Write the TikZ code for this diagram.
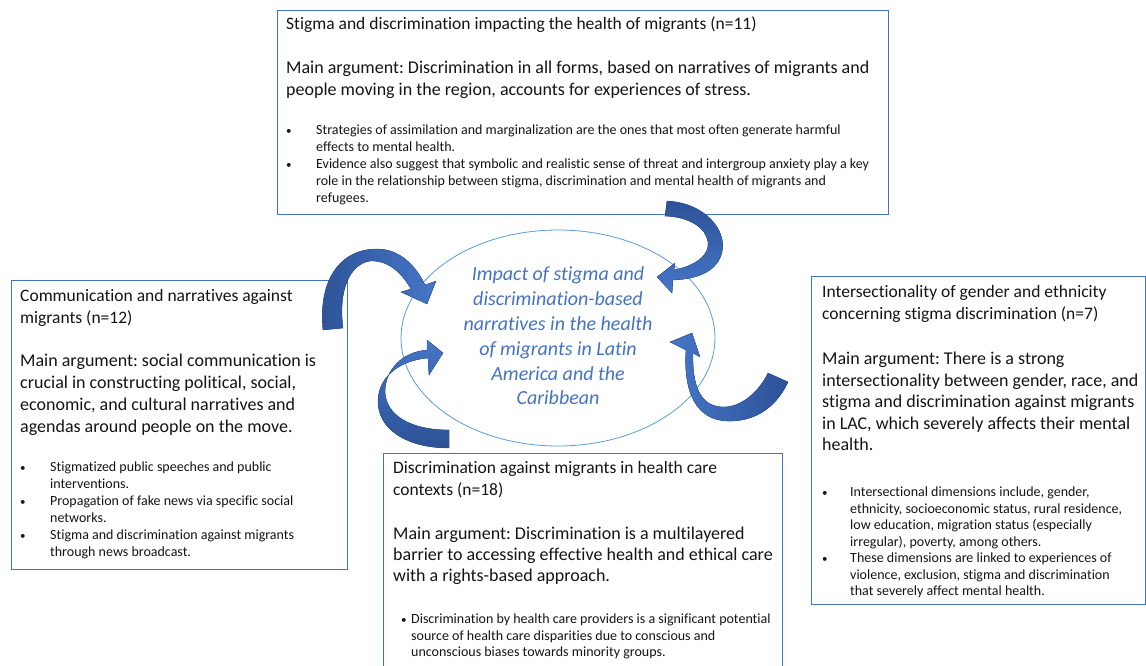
\documentclass[tikz,border=0pt]{standalone}
\usepackage{fontspec}
\setmainfont{Carlito}[Ligatures=NoCommon]
\usetikzlibrary{shapes.geometric}

\definecolor{boxblue}{RGB}{68,114,196}
\definecolor{ringblue}{RGB}{91,155,213}
\definecolor{arrowdark}{RGB}{45,82,150}
\definecolor{arrowlight}{RGB}{70,118,200}
\definecolor{bodytext}{RGB}{20,20,20}

\newcommand{\boxlines}[1]{\begin{tabular}[t]{@{}l@{}}#1\end{tabular}}
\newcommand{\boxbullets}[2]{\begin{tabular}[t]{@{}p{#1}@{}l@{}}#2\end{tabular}}
\newcommand{\dotmark}{{\fontsize{11}{11}\selectfont\textbullet}}

\tikzset{
  box/.style={draw=boxblue, line width=0.7pt, inner sep=0pt},
  hub/.style={draw=ringblue, line width=0.8pt, ellipse, inner sep=0pt,
    minimum width=314pt, minimum height=216pt, text=boxblue,
    font=\fontsize{20}{24.8}\selectfont\itshape},
  ttl/.style={anchor=base west, inner sep=0pt, text=bodytext, font=\fontsize{17.5}{22}\selectfont},
  arg/.style={anchor=base west, inner sep=0pt, text=bodytext, font=\fontsize{18}{22}\selectfont},
  bul/.style={anchor=base west, inner sep=0pt, text=bodytext, font=\fontsize{14}{17}\selectfont},
  curvearrow/.style={draw=arrowdark, line width=0.3pt},
}

\begin{document}
\frenchspacing
\begin{tikzpicture}[x=1pt,y=-1pt]
\useasboundingbox (0,0) rectangle (1146,666);

% the four theme boxes
\node[box, minimum width=611pt, minimum height=204pt] (stigma) at (582.5,112) {};
\node[box, minimum width=336pt, minimum height=289pt] (media) at (179,424.5) {};
\node[box, minimum width=334pt, minimum height=328pt] (gender) at (978,440) {};
\node[box, minimum width=399pt, minimum height=240pt] (care) at (582.5,573) {};

% top box
\node[ttl] (stigmattl) at (286,29.5) {\boxlines{Stigma and discrimination impacting the health of migrants (n=11)}};
\node[arg] (stigmaarg) at (286,73.5) {\boxlines{Main argument: Discrimination in all forms, based on narratives of migrants and\\
  people moving in the region, accounts for experiences of stress.}};
\node[bul] (stigmabul) at (286,134.5) {\boxbullets{30pt}{\dotmark & Strategies of assimilation and marginalization are the ones that most often generate harmful\\
  & effects to mental health.\\
  \dotmark & Evidence also suggest that symbolic and realistic sense of threat and intergroup anxiety play a key\\
  & role in the relationship between stigma, discrimination and mental health of migrants and\\
  & refugees.}};

% left box
\node[ttl] (mediattl) at (20,301.5) {\boxlines{Communication and narratives against\\ migrants (n=12)}};
\node[arg] (mediaarg) at (20,366.5) {\boxlines{Main argument: social communication is\\
  crucial in constructing political, social,\\
  economic, and cultural narratives and\\
  agendas around people on the move.}};
\node[bul] (mediabul) at (20,471.5) {\boxbullets{30pt}{\dotmark & Stigmatized public speeches and public\\
  & interventions.\\
  \dotmark & Propagation of fake news via specific social\\
  & networks.\\
  \dotmark & Stigma and discrimination against migrants\\
  & through news broadcast.}};

% right box
\node[ttl] (genderttl) at (822,297.5) {\boxlines{Intersectionality of gender and ethnicity\\ concerning stigma discrimination (n=7)}};
\node[arg, font=\fontsize{18}{21.5}\selectfont] (genderarg) at (822,364.5) {\boxlines{Main argument: There is a strong\\
  intersectionality between gender, race, and\\
  stigma and discrimination against migrants\\
  in LAC, which severely affects their mental\\
  health.}};
\node[bul, font=\fontsize{14}{16.5}\selectfont] (genderbul) at (822,496.5) {\boxbullets{28pt}{\dotmark & Intersectional dimensions include, gender,\\
  & ethnicity, socioeconomic status, rural residence,\\
  & low education, migration status (especially\\
  & irregular), poverty, among others.\\
  \dotmark & These dimensions are linked to experiences of\\
  & violence, exclusion, stigma and discrimination\\
  & that severely affect mental health.}};

% bottom box
\node[ttl] (carettl) at (393,473.5) {\boxlines{Discrimination against migrants in health care\\ contexts (n=18)}};
\node[arg, font=\fontsize{18}{21}\selectfont] (carearg) at (393,539.5) {\boxlines{Main argument: Discrimination is a multilayered\\
  barrier to accessing effective health and ethical care\\
  with a rights-based approach.}};
\node[bul, font=\fontsize{14}{16.5}\selectfont] (carebul) at (401,623.5) {\boxbullets{10pt}{\dotmark & Discrimination by health care providers is a significant potential\\
  & source of health care disparities due to conscious and\\
  & unconscious biases towards minority groups.}};

% central ellipse
\node[hub] (hub) at (558,338) {\begin{tabular}{@{}c@{}}Impact of stigma and\\ discrimination-based\\ narratives in the health\\ of migrants in Latin\\ America and the\\ Caribbean\end{tabular}};

% curved block arrows into the ellipse
\fill[curvearrow, left color=arrowdark, right color=arrowlight]
  (323,330) .. controls (318,280) and (340,249) .. (377,249)
  .. controls (400,249) and (416,266) .. (425,285) -- (436,281) -- (427,304) -- (401,292) -- (411,289)
  .. controls (400,270) and (386,260) .. (370,261)
  .. controls (350,264) and (338,290) .. (343,328) -- cycle;
\fill[curvearrow, top color=arrowdark, bottom color=arrowlight]
  (667,201) .. controls (705,203) and (727,230) .. (722,252)
  .. controls (718,270) and (700,279) .. (673,280) -- (672,293) -- (657,277) -- (675,263) -- (674,270)
  .. controls (695,266) and (710,255) .. (708,242)
  .. controls (706,228) and (690,217) .. (665,216) -- cycle;
\fill[curvearrow, top color=arrowlight, bottom color=arrowdark]
  (449,448) .. controls (405,448) and (377,428) .. (378,400)
  .. controls (379,375) and (402,360) .. (428,358) -- (429,375) -- (443,353) -- (427,340) -- (427,350)
  .. controls (402,352) and (385,370) .. (385,392)
  .. controls (386,415) and (410,430) .. (449,430) -- cycle;
\fill[curvearrow, left color=arrowlight, right color=arrowdark]
  (788,382) .. controls (775,410) and (752,422) .. (727,421)
  .. controls (698,420) and (683,395) .. (686,350) -- (670,342) -- (692,333) -- (700,357) -- (693,353)
  .. controls (692,385) and (700,406) .. (722,407)
  .. controls (742,408) and (760,390) .. (768,373) -- cycle;
\end{tikzpicture}
\end{document}
